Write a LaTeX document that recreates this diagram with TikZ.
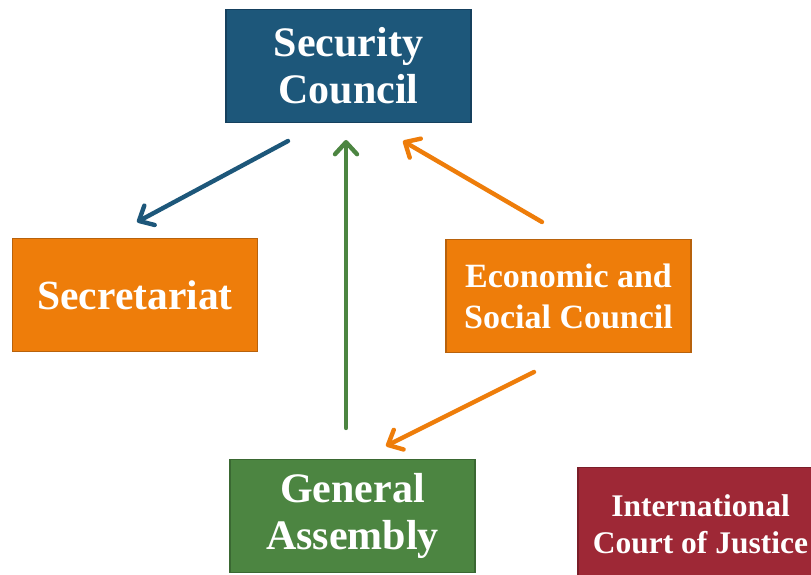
\documentclass[tikz,border=0pt]{standalone}
\usepackage{fontspec}
\setmainfont{Liberation Serif}
\usetikzlibrary{arrows.meta}
\definecolor{scblue}{HTML}{1D577A}
\definecolor{scline}{HTML}{15405E}
\definecolor{unorange}{HTML}{EE7D0A}
\definecolor{orline}{HTML}{B8620C}
\definecolor{gagreen}{HTML}{4C8541}
\definecolor{grline}{HTML}{3A6832}
\definecolor{icjred}{HTML}{9E2836}
\definecolor{rdline}{HTML}{7A1E29}

\begin{document}
\begin{tikzpicture}[x=1pt, y=-1pt,
  organ/.style={draw, line width=1.2pt, minimum width=245pt, minimum height=113pt, inner sep=0pt, text=white, align=center},
  link/.style={line width=4.4pt, line cap=round, -{Straight Barb[length=12pt, width=22pt, round]}}]
\useasboundingbox (0,0) rectangle (811,575);
\node[organ, fill=scblue, draw=scline, font=\fontsize{42}{47}\selectfont\bfseries] (SC) at (348.5,66) {Security\\Council};
\node[organ, fill=unorange, draw=orline, font=\fontsize{41.5}{47}\selectfont\bfseries] (SEC) at (135,295) {Secretariat};
\node[organ, fill=unorange, draw=orline, font=\fontsize{34}{41}\selectfont\bfseries] (ECO) at (568.5,296) {Economic and\\Social Council};
\node[organ, fill=gagreen, draw=grline, font=\fontsize{42}{47}\selectfont\bfseries] (GA) at (352.5,516) {General\\Assembly};
\node[organ, fill=icjred, draw=rdline, font=\fontsize{31.5}{37}\selectfont\bfseries] (ICJ) at (700.5,524) {International\\Court of Justice};

%arrow ends
\coordinate (SCa) at (288,141);
\coordinate (SECa) at (137,222);
\coordinate (SCb) at (346,140);
\coordinate (GAb) at (346,428);
\coordinate (SCc) at (403,141);
\coordinate (ECOc) at (542,222);
\coordinate (ECOd) at (534,372);
\coordinate (GAd) at (386,446);
\draw[link, draw=scblue] (SCa) -- (SECa);
\draw[link, draw=gagreen] (GAb) -- (SCb);
\draw[link, draw=unorange] (ECOc) -- (SCc);
\draw[link, draw=unorange] (ECOd) -- (GAd);
\end{tikzpicture}
\end{document}
